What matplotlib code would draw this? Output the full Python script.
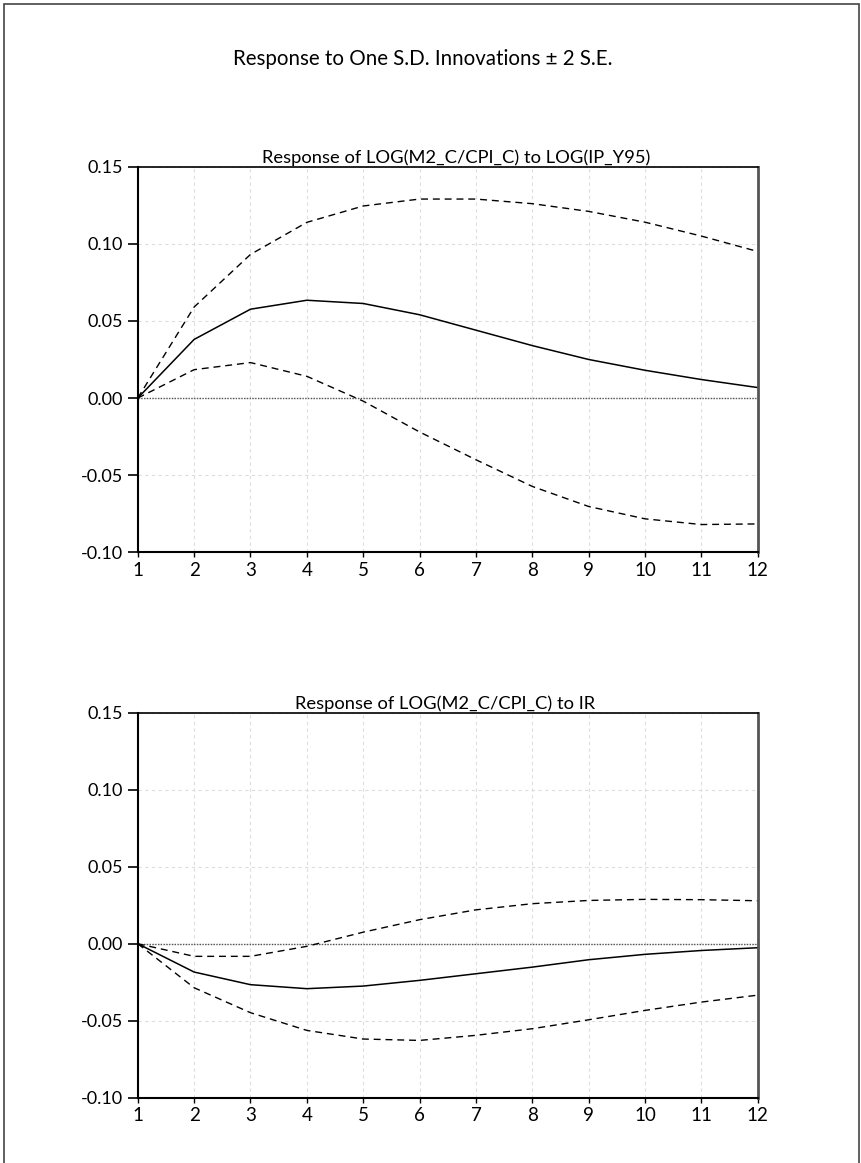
import numpy as np
import matplotlib
matplotlib.use('Agg')
import matplotlib.pyplot as plt
from matplotlib.patches import Rectangle
from matplotlib.ticker import MultipleLocator, FormatStrFormatter

plt.rcParams['font.family'] = ['Lato', 'DejaVu Sans']

# periods
periods = list(range(1, 13))

# response of LOG(M2_C/CPI_C) to LOG(IP_Y95)
ip_resp = [0.0, 0.038, 0.0576, 0.0634, 0.0613, 0.054, 0.044, 0.034, 0.025, 0.018, 0.012, 0.0068]
ip_upper = [0.0, 0.059, 0.0931, 0.1139, 0.1245, 0.129, 0.129, 0.126, 0.121, 0.114, 0.105, 0.095]
ip_lower = [0.0, 0.0184, 0.023, 0.0141, -0.002, -0.022, -0.040, -0.0573, -0.0703, -0.0783, -0.082, -0.0816]

# response of LOG(M2_C/CPI_C) to IR
ir_resp = [0.0, -0.0184, -0.0266, -0.0292, -0.0275, -0.0238, -0.0195, -0.0152, -0.0104, -0.0069, -0.0044, -0.0026]
ir_upper = [0.0, -0.0082, -0.0082, -0.0017, 0.0075, 0.0156, 0.022, 0.026, 0.0281, 0.0288, 0.0286, 0.0279]
ir_lower = [0.0, -0.0286, -0.0448, -0.0563, -0.0619, -0.0628, -0.0595, -0.0552, -0.0494, -0.0433, -0.0379, -0.0334]

titles = ['Response of LOG(M2_C/CPI_C) to LOG(IP_Y95)',
          'Response of LOG(M2_C/CPI_C) to IR']
series = [(ip_resp, ip_upper, ip_lower), (ir_resp, ir_upper, ir_lower)]

fig = plt.figure(figsize=(8.61, 11.63), dpi=100)
fig.patch.set_facecolor('white')

# outer frame
fig.add_artist(Rectangle((4 / 861, -0.02), 855 / 861, 1 - 4 / 1163 + 0.02,
                         transform=fig.transFigure, fill=False,
                         edgecolor='#444444', linewidth=1.2))

fig.text(0.491, 1 - 59 / 1163, u'Response to One S.D. Innovations \u00b1 2 S.E.',
         ha='center', va='center', fontsize=14.8)

positions = [[0.160, 0.5251, 0.7201, 0.3316],
             [0.160, 0.05615, 0.7201, 0.3310]]
title_shift = [6, -2]  # points

for pos, title, shift, (resp, upper, lower) in zip(positions, titles, title_shift, series):
    ax = fig.add_axes(pos)
    ax.plot(periods, resp, color='black', lw=1.1)
    ax.plot(periods, upper, color='black', lw=1.0, dashes=(5, 3.5))
    ax.plot(periods, lower, color='black', lw=1.0, dashes=(5, 3.5))
    ax.axhline(0, color='#555555', lw=1.0, linestyle=(0, (1, 1)), zorder=1)

    ax.set_xlim(1, 12)
    ax.set_ylim(-0.10, 0.15)
    ax.set_xticks(periods)
    ax.yaxis.set_major_locator(MultipleLocator(0.05))
    ax.yaxis.set_major_formatter(FormatStrFormatter('%.2f'))

    ax.grid(True, color='#dddddd', linestyle=(0, (3, 3)), linewidth=0.8)
    ax.set_axisbelow(True)

    ax.tick_params(axis='y', direction='out', length=7, width=1.2, pad=3.5, labelsize=13)
    ax.tick_params(axis='x', direction='out', length=3.5, width=1.0, pad=3.5, labelsize=13.5)

    for side in ['left', 'bottom', 'top']:
        ax.spines[side].set_color('black')
    ax.spines['left'].set_linewidth(1.5)
    ax.spines['bottom'].set_linewidth(1.5)
    ax.spines['top'].set_linewidth(1.2)
    ax.spines['right'].set_color('#555555')
    ax.spines['right'].set_linewidth(2.0)

    ax.annotate(title, xy=(0.5, 1), xycoords='axes fraction', xytext=(shift, 2.5),
                textcoords='offset points', ha='center', va='baseline', fontsize=13.2)

fig.savefig('out.png', dpi=100)
